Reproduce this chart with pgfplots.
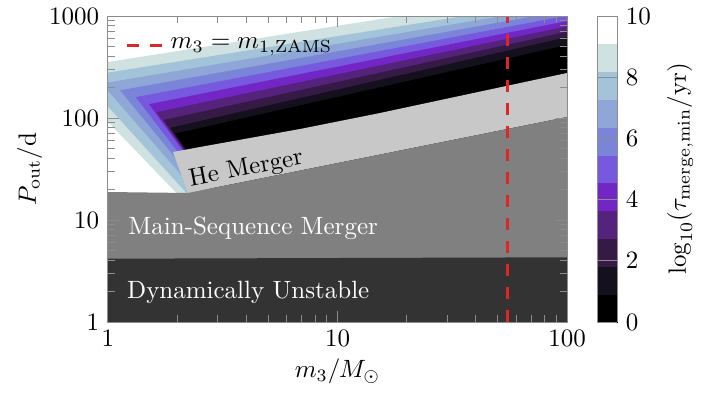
\documentclass[border=0pt]{standalone}
\usepackage{pgfplots}
\pgfplotsset{compat=1.18}
\definecolor{c0}{RGB}{0,0,0}
\definecolor{c1}{RGB}{20,16,29}
\definecolor{c2}{RGB}{54,26,70}
\definecolor{c3}{RGB}{85,35,124}
\definecolor{c4}{RGB}{114,38,198}
\definecolor{c5}{RGB}{119,89,223}
\definecolor{c6}{RGB}{122,132,216}
\definecolor{c7}{RGB}{142,167,215}
\definecolor{c8}{RGB}{163,195,217}
\definecolor{c9}{RGB}{207,225,224}
\definecolor{hecol}{RGB}{200,200,200}
\definecolor{mscol}{RGB}{128,128,128}
\definecolor{ducol}{RGB}{51,51,51}
\definecolor{redl}{RGB}{222,38,38}
\definecolor{boxgray}{RGB}{140,140,140}
\begin{document}
\begin{tikzpicture}
\useasboundingbox (-43.2pt,-29.6pt) rectangle (237.6pt,128.8pt);
\begin{axis}[
  at={(0pt,0pt)}, anchor=south west,
  scale only axis, width=183.6pt, height=122.4pt,
  xmode=log, ymode=log,
  xmin=1, xmax=100, ymin=1, ymax=1000,
  log ticks with fixed point,
  /pgf/number format/1000 sep={},
  xtick={1,10,100}, ytick={1,10,100,1000},
  tick align=inside,
  axis on top,
  axis line style={boxgray},
  every tick/.style={boxgray},
  xlabel={$m_3/M_\odot$},
  xlabel style={yshift=2pt},
  ylabel={$P_{\rm out}/{\rm d}$},
  ylabel style={yshift=-4pt},
  colormap={taumap}{rgb255=(0,0,0) rgb255=(20,16,29) rgb255=(54,26,70) rgb255=(85,35,124) rgb255=(114,38,198) rgb255=(119,89,223) rgb255=(122,132,216) rgb255=(142,167,215) rgb255=(163,195,217) rgb255=(207,225,224) rgb255=(255,255,255)},
  colormap access=piecewise constant,
  point meta min=0, point meta max=10,
  colorbar,
  colorbar style={
    at={(parent axis.north east)}, anchor=north west, xshift=3.5pt,
    width=8pt,
    ytick={0,2,4,6,8,10},
    ylabel={$\log_{10}(\tau_{\rm merge,min}/{\rm yr})$},
    ylabel style={at={(axis description cs:4.15,0.5)}, anchor=center},
    axis line style={boxgray},
    every tick/.style={boxgray},
  },
  legend style={draw=none, fill=none, at={(0.02,0.905)}, anchor=west},
  legend cell align=left,
  legend image code/.code={\draw[#1] (0pt,0pt) -- (15pt,0pt);},
]
% contour bands (outer to inner)
\addplot[fill=c9, draw=none, forget plot] coordinates {(1,354.0) (100,1814.6) (100,15.707) (2.1255,15.707) (1,91.69)} -- cycle;
\addplot[fill=c8, draw=none, forget plot] coordinates {(1,278.6) (100,1445.6) (100,15.707) (2.3441,15.707) (1,129.4)} -- cycle;
\addplot[fill=c7, draw=none, forget plot] coordinates {(1,222.7) (100,1281.8) (100,15.707) (2.5928,15.707) (1,184.8)} -- cycle;
\addplot[fill=c6, draw=none, forget plot] coordinates {(1.1288,186.89) (100,1136.8) (100,15.707) (2.7817,15.707)} -- cycle;
\addplot[fill=c5, draw=none, forget plot] coordinates {(1.3216,160.19) (100,1007.5) (100,15.707) (2.9233,15.707)} -- cycle;
\addplot[fill=c4, draw=none, forget plot] coordinates {(1.5092,136.73) (100,893.3) (100,15.707) (3.0452,15.707)} -- cycle;
\addplot[fill=c3, draw=none, forget plot] coordinates {(1.6287,114.33) (100,792.0) (100,15.707) (3.0587,15.707)} -- cycle;
\addplot[fill=c2, draw=none, forget plot] coordinates {(1.7464,95.63) (100,702.1) (100,15.707) (3.0737,15.707)} -- cycle;
\addplot[fill=c1, draw=none, forget plot] coordinates {(1.8664,80.10) (100,622.5) (100,15.707) (3.0753,15.707)} -- cycle;
\addplot[fill=c0, draw=none, forget plot] coordinates {(1.9654,70.38) (100,519.6) (100,15.707) (3.0927,15.707)} -- cycle;
% He merger band
\addplot[fill=hecol, draw=none, forget plot] coordinates {(1.9197,46.42) (2.5170,51.96) (6.8648,78.03) (15.318,111.95) (100,276.2) (100,102.28) (2.2320,18.397)} -- cycle;
% main-sequence merger
\addplot[fill=mscol, draw=none, forget plot] coordinates {(1,18.816) (2.2320,18.397) (100,102.28) (100,1) (1,1)} -- cycle;
% dynamically unstable
\addplot[fill=ducol, draw=none, forget plot] coordinates {(1,4.175) (100,4.308) (100,1) (1,1)} -- cycle;
% m3 = m1,ZAMS
\addplot[redl, line width=1.2pt, dash pattern=on 4.8pt off 4.4pt] coordinates {(55,1) (55,1000)};
\addlegendentry{$m_3 = m_{1,\mathrm{ZAMS}}$}
\node[rotate=11] at (axis cs:4.0,31.5) {He Merger};
\node[white, anchor=base west, inner sep=0pt] at (axis cs:1.222,7.13) {Main-Sequence Merger};
\node[white, anchor=base west, inner sep=0pt] at (axis cs:1.206,1.71) {Dynamically Unstable};
\end{axis}
\end{tikzpicture}
\end{document}
